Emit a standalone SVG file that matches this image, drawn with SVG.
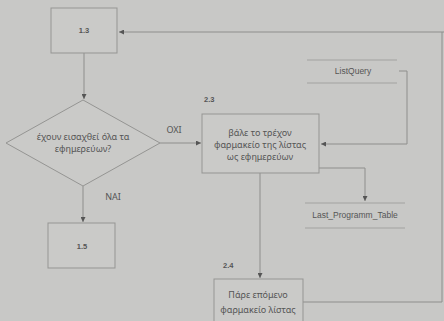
<svg xmlns="http://www.w3.org/2000/svg" width="444" height="321" viewBox="0 0 444 321">
<defs>
<style>
.bg{fill:#c8c8c6}
.box{fill:#cacac8;stroke:#959593;stroke-width:1}
.ln{fill:none;stroke:#8e8e8c;stroke-width:1}
.st{fill:none;stroke:#a2a2a0;stroke-width:1}
.t{font-family:"Liberation Sans",Arial,sans-serif;font-size:8.5px;fill:#555;text-anchor:middle}
.tg{font-family:"Noto Sans","DejaVu Sans",sans-serif;font-size:9px;fill:#555;text-anchor:middle}
.lb{font-family:"Liberation Sans",Arial,sans-serif;font-size:7.5px;fill:#555;font-weight:bold}
</style>
<marker id="ah" viewBox="0 0 10 10" refX="10" refY="5" markerWidth="5" markerHeight="5" orient="auto"><path d="M0,0L10,5L0,10z" fill="#555"/></marker>
</defs>
<rect class="bg" width="444" height="321"/>
<g id="connectors">
<path class="ln" d="M444,32H119" marker-end="url(#ah)"/>
<path class="ln" d="M84,53V99" marker-end="url(#ah)"/>
<path class="ln" d="M160,143H201" marker-end="url(#ah)"/>
<path class="ln" d="M83,186V222" marker-end="url(#ah)"/>
<path class="ln" d="M399,71H407V144H321" marker-end="url(#ah)"/>
<path class="ln" d="M319,168H365V201" marker-end="url(#ah)"/>
<path class="ln" d="M260,173V278" marker-end="url(#ah)"/>
<path class="ln" d="M303,302H442V32"/>
</g>
<g id="n13"><rect class="box" x="51" y="8" width="66" height="45"/><text class="lb" x="84" y="33" text-anchor="middle">1.3</text></g>
<g id="decision"><path class="box" d="M83,100L160,143L83,186L6,143z"/>
<text class="tg" x="83" y="140">έχουν εισαχθεί όλα τα</text><text class="tg" x="83" y="152">εφημερεύων?</text></g>
<g id="lbl-oxi"><text class="tg" x="174" y="133">OXI</text></g>
<g id="lbl-nai"><text class="tg" x="113" y="200">NAI</text></g>
<g id="n15"><rect class="box" x="48" y="223" width="67" height="45"/><text class="lb" x="82" y="249" text-anchor="middle">1.5</text></g>
<g id="listquery"><path class="st" d="M307,60H397M307,83H397"/><text class="t" x="353" y="74">ListQuery</text></g>
<g id="n23"><text class="lb" x="204" y="102">2.3</text><rect class="box" x="202" y="114" width="117" height="59"/>
<text class="tg" x="260" y="136">βάλε το τρέχον</text><text class="tg" x="260" y="148">φαρμακείο της λίστας</text><text class="tg" x="260" y="160">ως εφημερεύων</text></g>
<g id="lastprog"><path class="st" d="M305,203H405M305,228H405"/><text class="t" x="355" y="218">Last_Programm_Table</text></g>
<g id="n24"><text class="lb" x="223" y="268">2.4</text><rect class="box" x="214" y="279" width="89" height="50"/>
<text class="tg" x="258" y="298">Πάρε επόμενο</text><text class="tg" x="258" y="313">φαρμακείο λίστας</text></g>
</svg>
